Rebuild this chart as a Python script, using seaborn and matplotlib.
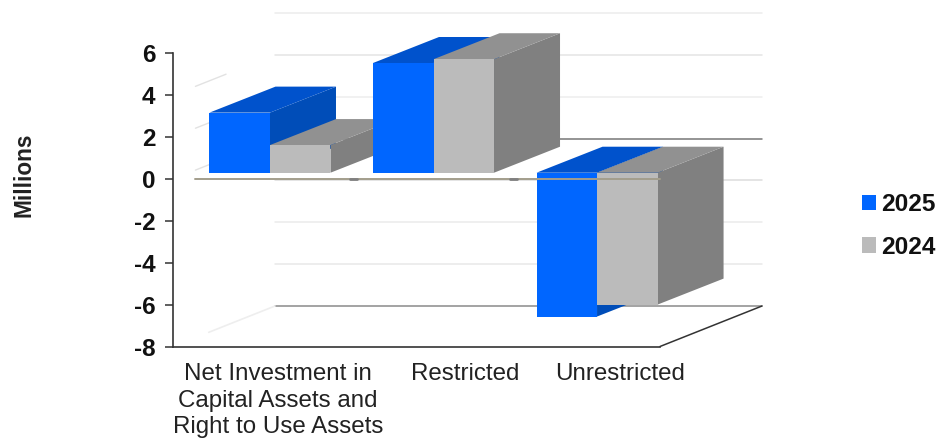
import matplotlib
matplotlib.use("Agg")
import matplotlib.pyplot as plt
import pandas as pd
import seaborn as sns
from matplotlib.patches import Polygon
from matplotlib.transforms import Affine2D

categories = ["Net Investment in\nCapital Assets and\nRight to Use Assets", "Restricted", "Unrestricted"]
values_2025 = [2.87, 5.24, -6.87]
values_2024 = [1.32, 5.42, -6.3]
years = ["2025", "2024"]
y_ticks = [6, 4, 2, 0, -2, -4, -6, -8]
wall_line_colors = ["#ececec", "#e4e4e4", "#eeeeee", "#777777", "#dcdcdc", "#ebebeb", "#e8e8e8", "#8a8a8a"]
label_nudges = [0.05, 0.196, 0.14]

front_colors = ["#0066ff", "#bbbbbb"]
top_colors = ["#0052cc", "#919191"]
side_colors = ["#004db8", "#808080"]

W, H = 937, 438
sns.set_theme(style="white")
plt.rcParams["font.family"] = ["Liberation Sans", "DejaVu Sans"]

fig = plt.figure(figsize=(W / 100, H / 100), dpi=100)
ax = fig.add_axes([173 / W, 1 - 346.5 / H, 487 / W, 293.1 / H])

df = pd.DataFrame({
    "category": categories * 2,
    "year": [years[0]] * 3 + [years[1]] * 3,
    "value": values_2025 + values_2024,
})
sns.barplot(data=df, x="category", y="value", hue="year", hue_order=years,
            palette=dict(zip(years, front_colors)), width=0.74, gap=0,
            saturation=1, linewidth=0, errorbar=None, ax=ax)

ax.set_xlim(-0.593, 2.385)
ax.set_ylim(-8, 6)

# Oblique projection: how far the depth axis of the box shifts in data units
bar_dx, bar_dy = 66 / 163.5, 26 / 20.93
wall_dx, wall_dy = 102 / 163.5, 40.5 / 20.93
lift = Affine2D().translate(0, 6.3)
bar_tf = ax.transData + lift

# Side and top faces built from each bar's own geometry
for h, container in enumerate(ax.containers):
    for c, bar in enumerate(container):
        x0, w, v = bar.get_x(), bar.get_width(), bar.get_height()
        x1, top, low = x0 + w, max(v, 0), min(v, 0)
        z = 4 + c * 6 + h * 3
        bar.set_transform(bar_tf)
        bar.set_zorder(z + 2)
        bar.set_clip_on(False)
        side = [(x1, low), (x1 + bar_dx, low + bar_dy), (x1 + bar_dx, top + bar_dy), (x1, top)]
        roof = [(x0, top), (x1, top), (x1 + bar_dx, top + bar_dy), (x0 + bar_dx, top + bar_dy)]
        ax.add_patch(Polygon(side, fc=side_colors[h], ec="none", transform=bar_tf, zorder=z, clip_on=False))
        ax.add_patch(Polygon(roof, fc=top_colors[h], ec="none", transform=bar_tf, zorder=z + 1, clip_on=False))

# Back wall gridlines and the short remains of the side wall gridlines
xl, xr = ax.get_xlim()
for t, col in zip(y_ticks, wall_line_colors):
    ax.plot([xl + wall_dx, xr + wall_dx], [t + wall_dy, t + wall_dy], color=col,
            lw=1.1, zorder=1, clip_on=False)
for t in [4, 2, 0]:
    ax.plot([xl + wall_dx * 0.22, xl + wall_dx * 0.52], [t + wall_dy * 0.22, t + wall_dy * 0.52],
            color="#e2e2e2", lw=1.0, zorder=1, clip_on=False)
ax.plot([xl + wall_dx * 0.35, xl + wall_dx], [-8 + wall_dy * 0.35, -8 + wall_dy],
        color="#eeeeee", lw=1.2, zorder=1, clip_on=False)

# Front zero line runs over the bars
ax.plot([xl + 22 / 163.5, xr], [0, 0], color="#a39e8c", lw=1.4, zorder=40, clip_on=False)
for x_mid in [0.51, 1.49]:
    ax.plot([x_mid - 0.02, x_mid + 0.02], [0, 0], color="#808080", lw=2, zorder=41, clip_on=False)

# Floor edge receding to the right
ax.plot([xr, xr + wall_dx], [-8, -8 + wall_dy], color="#333333", lw=1.1, zorder=3, clip_on=False)

for name in ["top", "right"]:
    ax.spines[name].set_visible(False)
for name in ["left", "bottom"]:
    ax.spines[name].set_color("#333333")
    ax.spines[name].set_linewidth(1.2)

ax.set_yticks(y_ticks)
ax.set_yticklabels([str(t) for t in y_ticks], fontsize=17.5, fontweight="bold", color="#111111")
ax.tick_params(axis="y", left=True, length=5.8, width=1.1, color="#333333", pad=7)
ax.set_xticks([i + n for i, n in enumerate(label_nudges)])
ax.set_xticklabels(categories, fontsize=17.4, color="#222222", linespacing=1.26)
ax.tick_params(axis="x", bottom=False, pad=6)
ax.set_xlabel("")
ax.set_ylabel("")
fig.text(24 / W, 1 - 175 / H, "Millions", rotation=90, ha="center", va="center",
         fontsize=16.3, fontweight="bold", color="#222222")

handles, labels = ax.get_legend_handles_labels()
legend = ax.legend(handles, labels, loc="center left", bbox_to_anchor=(862 / W, 1 - 226 / H),
                   bbox_transform=fig.transFigure, frameon=False, handlelength=0.58,
                   handleheight=0.58, handletextpad=0.2, labelspacing=0.78,
                   borderpad=0, borderaxespad=0,
                   prop={"size": 17.6, "weight": "bold", "family": "Liberation Sans"})
for t in legend.get_texts():
    t.set_color("#111111")

fig.savefig("out.png", dpi=100, facecolor="white")
